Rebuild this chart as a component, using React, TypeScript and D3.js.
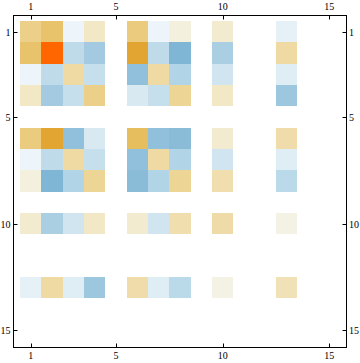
import React from "react";
import * as d3 from "d3";

// Non-zero row/column indices (1-based) of the 15x15 matrix
const activeIdx = [1, 2, 3, 4, 6, 7, 8, 10, 13];
// Values of the symmetric matrix restricted to activeIdx x activeIdx
const row1 = [0.45, 0.6, -0.03, 0.2, 0.5, -0.03, 0.08, 0.15, -0.08];
const row2 = [0.6, 1.0, -0.32, -0.5, 0.8, -0.32, -0.8, -0.45, 0.35];
const row3 = [-0.03, -0.32, 0.35, -0.27, -0.65, 0.35, -0.4, -0.2, -0.12];
const row4 = [0.2, -0.5, -0.27, 0.45, -0.16, -0.27, 0.4, 0.2, -0.55];
const row6 = [0.5, 0.8, -0.65, -0.16, 0.65, -0.65, -0.7, 0.15, 0.32];
const row7 = [-0.03, -0.32, 0.35, -0.27, -0.65, 0.35, -0.4, -0.2, -0.12];
const row8 = [0.08, -0.8, -0.4, 0.4, -0.7, -0.4, 0.4, 0.3, -0.35];
const row10 = [0.15, -0.45, -0.2, 0.2, 0.15, -0.2, 0.3, 0.33, 0.06];
const row13 = [-0.08, 0.35, -0.12, -0.55, 0.32, -0.12, -0.35, 0.06, 0.27];
const rows = [row1, row2, row3, row4, row6, row7, row8, row10, row13];

const n = 15;
const tickValues = [1, 5, 10, 15];

const colorDomain = [-1, -0.8, -0.7, -0.6, -0.5, -0.4, -0.3, -0.2, -0.1, 0, 0.1, 0.2, 0.3, 0.4, 0.5, 0.6, 0.7, 0.8, 1];
const colorRange = [
  "#6aa8ce", "#7fb6d5", "#8abcd8", "#96c3dd", "#a3cae0", "#b1d4e6", "#c2ddeb", "#d0e5f0", "#e3eff6", "#f2f7fb",
  "#f3eed7", "#f2e8c6", "#f0deaf", "#edd596", "#ebcb7e", "#e8c36c", "#e6b850", "#e3a532", "#ff6600",
];

export default function App() {
  const W = 360, H = 363;
  const frameL = 13.5, frameT = 15.5, frameR = 346.5, frameB = 347.5;
  const gx0 = 20, gx1 = 340, gy0 = 21, gy1 = 341;

  const x = d3.scaleLinear().domain([0.5, n + 0.5]).range([gx0, gx1]);
  const y = d3.scaleLinear().domain([0.5, n + 0.5]).range([gy0, gy1]);
  const color = d3.scaleLinear<string>().domain(colorDomain).range(colorRange).interpolate(d3.interpolateRgb).clamp(true);

  const cells: { r: number; c: number; v: number }[] = [];
  rows.forEach((rowVals, i) => {
    rowVals.forEach((v, j) => {
      cells.push({ r: activeIdx[i], c: activeIdx[j], v });
    });
  });

  const tickLen = 4;
  const font = "'Liberation Serif', 'Times New Roman', serif";
  const fs = 10;

  return (
    <svg width={W} height={H} style={{ display: "block", position: "absolute", left: 0, top: 0 }}>
      <rect x={0} y={0} width={W} height={H} fill="#fff" />
      {cells.map((d, k) => (
        <rect
          key={k}
          x={x(d.c - 0.5)}
          y={y(d.r - 0.5)}
          width={x(d.c + 0.5) - x(d.c - 0.5)}
          height={y(d.r + 0.5) - y(d.r - 0.5)}
          fill={color(d.v)}
          shapeRendering="crispEdges"
        />
      ))}
      <rect x={frameL} y={frameT} width={frameR - frameL} height={frameB - frameT} fill="none" stroke="#000" strokeWidth={1} />
      {tickValues.map((t) => (
        <g key={"t" + t}>
          <line x1={Math.round(x(t)) + 0.5} x2={Math.round(x(t)) + 0.5} y1={frameT} y2={frameT + tickLen} stroke="#000" />
          <line x1={Math.round(x(t)) + 0.5} x2={Math.round(x(t)) + 0.5} y1={frameB} y2={frameB - tickLen} stroke="#000" />
          <line y1={Math.round(y(t)) + 0.5} y2={Math.round(y(t)) + 0.5} x1={frameL} x2={frameL + tickLen} stroke="#000" />
          <line y1={Math.round(y(t)) + 0.5} y2={Math.round(y(t)) + 0.5} x1={frameR} x2={frameR - tickLen} stroke="#000" />
          <text x={x(t)} y={frameT - 5.5} textAnchor="middle" fontFamily={font} fontSize={fs} fill="#000">{t}</text>
          <text x={x(t)} y={frameB + 11.5} textAnchor="middle" fontFamily={font} fontSize={fs} fill="#000">{t}</text>
          <text x={frameL - 3} y={y(t) + 4} textAnchor="end" fontFamily={font} fontSize={fs} fill="#000">{t}</text>
          <text x={frameR + 2.5} y={y(t) + 4} textAnchor="start" fontFamily={font} fontSize={fs} fill="#000">{t}</text>
        </g>
      ))}
    </svg>
  );
}
